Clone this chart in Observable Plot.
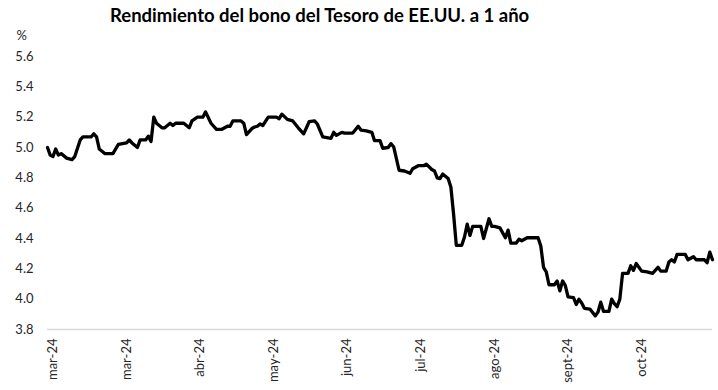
<!DOCTYPE html>
<html>
<head>
<meta charset="utf-8">
<script src="https://cdn.jsdelivr.net/npm/d3@7"></script>
<script src="https://cdn.jsdelivr.net/npm/@observablehq/plot@0.6"></script>
<style>
  body { margin: 0; background: #fff; }
  #title { width: 718px; height: 26px; box-sizing: border-box; padding-left: 110px; padding-top: 5px;
           font-family: Lato, "Open Sans", sans-serif; font-weight: bold; font-size: 18.5px; color: #000; line-height: 20px; white-space: nowrap; }
</style>
</head>
<body>
<div id="title">Rendimiento del bono del Tesoro de EE.UU. a 1 año</div>
<div id="chart"></div>
<script>
const startDate = "2024-03-01";
// days elapsed since startDate
const dayOffsets = [0,1,2,3,4,5,7,9,10,12,13,16,17,18,19,21,24,26,29,30,31,33,34,36,37,38,39,40,42,43,45,46,47,50,52,53,55,57,58,60,62,64,66,67,68,71,72,73,75,76,77,78,79,81,84,85,86,88,90,92,94,96,98,99,101,104,105,106,108,109,112,114,115,117,119,120,122,123,125,126,127,129,131,133,134,136,138,139,141,142,143,144,145,147,148,149,150,152,153,154,155,156,159,160,162,163,164,166,168,169,170,172,173,174,176,180,181,182,183,184,186,187,188,189,190,191,193,194,195,196,197,199,201,202,203,204,206,207,208,209,210,211,213,214,215,216,218,220,222,224,225,227,228,229,230,231,234,235,237,238,241,242,243,244];
const yields = [5.00,4.95,4.94,4.99,4.95,4.96,4.93,4.92,4.94,5.05,5.07,5.07,5.09,5.07,4.99,4.96,4.96,5.02,5.03,5.05,5.03,5.00,5.05,5.05,5.075,5.04,5.20,5.16,5.13,5.13,5.16,5.145,5.16,5.16,5.13,5.175,5.20,5.20,5.235,5.16,5.12,5.12,5.14,5.14,5.175,5.175,5.16,5.085,5.125,5.135,5.14,5.155,5.145,5.20,5.20,5.19,5.22,5.185,5.175,5.13,5.09,5.17,5.175,5.155,5.07,5.06,5.10,5.08,5.10,5.095,5.095,5.14,5.115,5.11,5.10,5.045,5.045,4.995,5.00,5.025,5.005,4.85,4.845,4.83,4.86,4.88,4.88,4.89,4.855,4.845,4.80,4.795,4.825,4.795,4.74,4.56,4.355,4.355,4.41,4.495,4.42,4.48,4.48,4.40,4.53,4.48,4.48,4.47,4.405,4.455,4.37,4.37,4.395,4.385,4.405,4.405,4.35,4.21,4.18,4.095,4.095,4.12,4.055,4.12,4.09,4.015,4.01,3.965,4.00,3.975,3.94,3.935,3.89,3.915,3.98,3.92,3.92,4.00,3.97,3.95,4.00,4.17,4.17,4.22,4.19,4.235,4.185,4.18,4.17,4.21,4.185,4.185,4.245,4.26,4.245,4.295,4.295,4.26,4.28,4.26,4.26,4.24,4.31,4.26];
const tickOffsets = [2,29,56,83,110,137,164,191,218];
const tickLabels = ["mar-24","mar-24","abr-24","may-24","jun-24","jul-24","ago-24","sept-24","oct-24"];
const yTicks = [3.8,4.0,4.2,4.4,4.6,4.8,5.0,5.2,5.4,5.6];

const start = new Date(startDate + "T00:00:00Z");
const data = dayOffsets.map((d, i) => ({date: d3.utcDay.offset(start, d), value: yields[i]}));
const tickDates = tickOffsets.map(d => d3.utcDay.offset(start, d));
const labelByTime = new Map(tickDates.map((d, i) => [+d, tickLabels[i]]));

const chart = Plot.plot({
  width: 718,
  height: 364,
  marginTop: 30,
  marginBottom: 61,
  marginLeft: 47,
  marginRight: 6,
  style: {fontFamily: "Lato, 'Open Sans', sans-serif", fontSize: "13px", color: "#262626", background: "#fff"},
  x: {type: "utc", domain: [start, d3.utcDay.offset(start, 244)]},
  y: {domain: [3.8, 5.6]},
  marks: [
    Plot.ruleY([3.8], {stroke: "#d9d9d9", strokeWidth: 1.5}),
    Plot.axisY({ticks: yTicks, tickFormat: d3.format(".1f"), tickSize: 0, tickPadding: 14, label: null}),
    Plot.axisX({ticks: tickDates, tickFormat: d => labelByTime.get(+d), tickRotate: -90, tickSize: 0, tickPadding: 9, label: null}),
    Plot.text(["%"], {frameAnchor: "top-left", textAnchor: "start", lineAnchor: "middle", dx: -31, dy: -21, fontSize: 13, fill: "#262626"}),
    Plot.line(data, {x: "date", y: "value", stroke: "#000", strokeWidth: 3.3, strokeLinejoin: "round"})
  ]
});
document.getElementById("chart").appendChild(chart);
</script>
</body>
</html>
